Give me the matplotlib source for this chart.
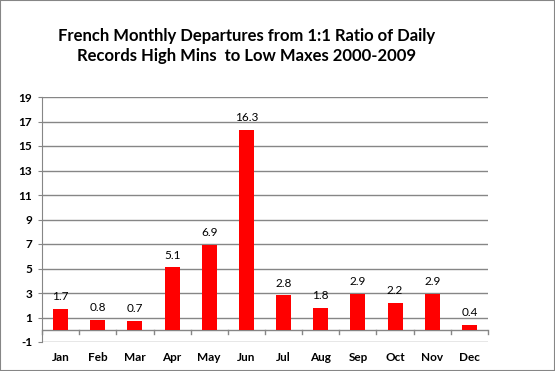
import matplotlib.pyplot as plt

months = ["Jan", "Feb", "Mar", "Apr", "May", "Jun", "Jul", "Aug", "Sep", "Oct", "Nov", "Dec"]
departures = [1.7, 0.8, 0.7, 5.1, 6.9, 16.3, 2.8, 1.8, 2.9, 2.2, 2.9, 0.4]
y_ticks = list(range(-1, 20, 2))

plt.rcParams['font.family'] = ['Lato', 'DejaVu Sans']

fig = plt.figure(figsize=(5.55, 3.71), dpi=100)
ax = fig.add_axes([42 / 555, 1 - 342 / 371, 446 / 555, 245 / 371])

x = range(len(months))
ax.bar(x, departures, width=0.4, color="#ff0000", zorder=3)
for xi, v in zip(x, departures):
    ax.text(xi, v + 0.55, f"{v:.1f}", ha="center", va="bottom", fontsize=8.5, color="#000000")

ax.set_xlim(-0.5, len(months) - 0.5)
ax.set_ylim(-1, 19)
ax.set_yticks(y_ticks)
ax.set_yticklabels([str(t) for t in y_ticks], fontsize=8.5, fontweight="bold")
ax.grid(axis="y", color="#868686", linewidth=1, zorder=0)

# category axis sits at zero, labels below the plot
ax.axhline(0, color="#868686", linewidth=1, zorder=2)
ax.set_xticks([])
for b in range(len(months) + 1):
    ax.plot([b - 0.5, b - 0.5], [0, -0.35], color="#868686", linewidth=1, clip_on=False, zorder=2)
for xi, m in zip(x, months):
    ax.text(xi, -1.85, m, ha="center", va="top", fontsize=8.5, fontweight="bold")

for side in ["top", "right", "bottom"]:
    ax.spines[side].set_visible(False)
ax.spines["left"].set_color("#868686")
ax.tick_params(axis="y", length=3, color="#868686", pad=4)

fig.text(247 / 555, 1 - 46 / 371,
         "French Monthly Departures from 1:1 Ratio of Daily\nRecords High Mins  to Low Maxes 2000-2009",
         ha="center", va="center", fontsize=12, fontweight="bold", linespacing=1.35)

fig.patches.append(plt.Rectangle((0, 0), 1, 1, transform=fig.transFigure, fill=False,
                                 edgecolor="#868686", linewidth=1.5))

fig.savefig("out.png", dpi=100)
